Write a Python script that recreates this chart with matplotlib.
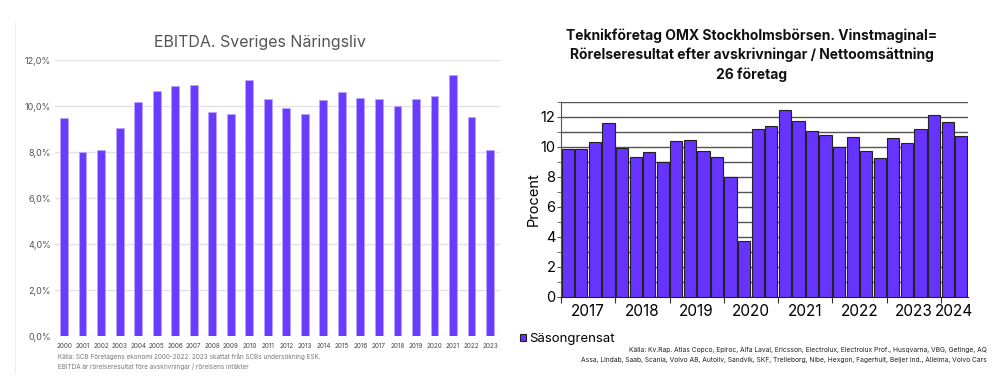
import matplotlib
matplotlib.use("Agg")
import matplotlib.pyplot as plt
import numpy as np

plt.rcParams['font.family'] = ['Inter', 'DejaVu Sans']

# ---------- Left chart data ----------
years_left = [str(y) for y in range(2000, 2024)]
ebitda = [9.49, 8.0, 8.1, 9.03, 10.17, 10.65, 10.87, 10.91, 9.72, 9.64, 11.14, 10.30,
          9.91, 9.67, 10.26, 10.61, 10.33, 10.29, 10.0, 10.30, 10.45, 11.36, 9.51, 8.1]
left_yticks = [0, 2, 4, 6, 8, 10, 12]
left_ytick_labels = ["0,0%", "2,0%", "4,0%", "6,0%", "8,0%", "10,0%", "12,0%"]

# ---------- Right chart data ----------
margin = [9.87, 9.87, 10.33, 11.58, 9.91, 9.36, 9.69, 9.0, 10.38, 10.49, 9.73, 9.33,
          8.02, 3.73, 11.2, 11.42, 12.49, 11.73, 11.09, 10.82, 10.02, 10.67, 9.73, 9.29,
          10.6, 10.24, 11.2, 12.13, 11.67, 10.73]
year_labels_right = ["2017", "2018", "2019", "2020", "2021", "2022", "2023", "2024"]
quarters_per_year = [4, 4, 4, 4, 4, 4, 4, 2]

fig = plt.figure(figsize=(10.08, 3.9), dpi=100)
W, H = 1008, 390

def ax_rect(x0, y0, x1, y1):
    return [x0 / W, 1 - y1 / H, (x1 - x0) / W, (y1 - y0) / H]

# faint panel border for left chart
fig.add_artist(plt.Line2D([15 / W, 15 / W], [1 - 373 / H, 1 - 23 / H], color="#eeeeee", lw=0.8))

# ---------- Left chart ----------
ax1 = fig.add_axes(ax_rect(55, 60, 500, 336))
x1 = np.arange(len(years_left))
ax1.bar(x1, ebitda, width=0.42, color="#6a3cff", edgecolor="#b9a6ff", linewidth=0.6, zorder=3)
ax1.set_ylim(0, 12)
ax1.set_xlim(-0.49, 23.54)
ax1.set_yticks(left_yticks)
ax1.set_yticklabels(left_ytick_labels, fontsize=6.5, color="#555555")
ax1.set_xticks(x1)
ax1.set_xticklabels(years_left, fontsize=4.6, color="#444444")
ax1.tick_params(axis="both", length=0, pad=3)
ax1.tick_params(axis="x", pad=5)
ax1.grid(axis="y", color="#e3e3e3", lw=1.0, zorder=0)
for s in ax1.spines.values():
    s.set_visible(False)
fig.text(260 / W, 1 - 42 / H, "EBITDA. Sveriges Näringsliv", ha="center", va="center",
         fontsize=11.5, color="#555555")
fig.text(58 / W, 1 - 357 / H,
         "Källa: SCB Företagens ekonomi 2000-2022. 2023 skattat från SCBs undersökning ESK.",
         ha="left", va="center", fontsize=4.6, color="#777777")
fig.text(58 / W, 1 - 367 / H,
         "EBITDA är rörelseresultat före avskrivningar / rörelsens intäkter",
         ha="left", va="center", fontsize=4.6, color="#777777")

# ---------- Right chart ----------
ax2 = fig.add_axes(ax_rect(561, 102, 968, 296.7))
x2 = np.arange(len(margin))
ax2.bar(x2, margin, width=0.9, color="#6633ff", edgecolor="#222222", linewidth=0.8, zorder=3,
        label="Säsongrensat")
ax2.set_ylim(0, 13)
ax2.set_xlim(-0.5, len(margin) - 0.5)
ax2.set_yticks(np.arange(0, 13, 2))
ax2.set_yticks(np.arange(1, 14, 2), minor=True)
ax2.tick_params(axis="y", which="major", labelsize=10.5, length=3, color="#555555", pad=1)
ax2.tick_params(axis="y", which="minor", length=3, color="#555555")
for y in range(0, 14):
    ax2.axhline(y, color="#555555", lw=1.0, zorder=1)

bounds = np.concatenate([[0], np.cumsum(quarters_per_year)]) - 0.5
ax2.set_xticks(bounds[:-1])
ax2.set_xticklabels([])
centers = [(bounds[i] + bounds[i + 1]) / 2 for i in range(len(quarters_per_year))]
ax2.set_xticks(centers, minor=True)
ax2.set_xticklabels(year_labels_right, minor=True, fontsize=11)
ax2.tick_params(axis="x", which="major", length=4, color="#333333")
ax2.tick_params(axis="x", which="minor", length=0, pad=5)
for s in ["top", "right"]:
    ax2.spines[s].set_visible(False)
ax2.spines["left"].set_color("#555555")
ax2.spines["bottom"].set_color("#222222")
ax2.set_ylabel("Procent", fontsize=10.5, labelpad=0)

fig.text(752 / W, 1 - 55 / H,
         "Teknikföretag OMX Stockholmsbörsen. Vinstmaginal=\nRörelseresultat efter avskrivningar / Nettoomsättning\n26 företag",
         ha="center", va="center", fontsize=10, fontweight="bold", linespacing=1.45, color="#111111")

# legend
leg = fig.legend(*ax2.get_legend_handles_labels(), loc="center left",
                 bbox_to_anchor=(515 / W, 1 - 339 / H), frameon=False, fontsize=9.5,
                 handlelength=0.4, handleheight=0.4, handletextpad=0.3, borderaxespad=0)

fig.text(987 / W, 1 - 350 / H,
         "Källa: Kv.Rap. Atlas Copco, Epiroc, Alfa Laval, Ericsson, Electrolux, Electrolux Prof., Husqvarna, VBG, Getinge, AQ",
         ha="right", va="center", fontsize=4.8, color="#222222")
fig.text(987 / W, 1 - 360 / H,
         "Assa, Lindab, Saab, Scania, Volvo AB, Autoliv, Sandvik, SKF, Trelleborg, Nibe, Hexgon, Fagerhult, Beijer Ind., Alleima, Volvo Cars",
         ha="right", va="center", fontsize=4.8, color="#222222")

fig.savefig("out.png", dpi=100)
